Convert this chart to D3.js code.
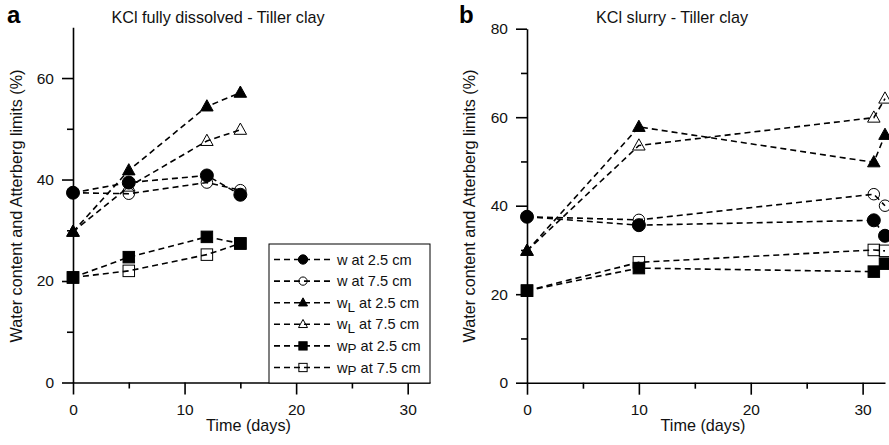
<!DOCTYPE html>
<html>
<head>
<meta charset="utf-8">
<script src="https://cdn.jsdelivr.net/npm/d3@7"></script>
<style>
  body { margin: 0; background: #fff; }
  svg { display: block; font-family: "Liberation Sans", Arial, sans-serif; }
</style>
</head>
<body>
<svg id="chart" width="889" height="445"></svg>
<script>
// Panel a: KCl fully dissolved
const daysA = [0, 5, 12, 15];
const wShallowA = [37.4, 39.4, 40.8, 37.0];
const wDeepA = [37.4, 37.2, 39.4, 37.9];
const wLShallowA = [29.7, 41.8, 54.4, 57.1];
const wLDeepA = [29.7, 38.6, 47.6, 49.8];
const wPShallowA = [20.7, 24.7, 28.7, 27.4];
const wPDeepA = [20.7, 22.0, 25.2, 27.4];

// Panel b: KCl slurry
const daysB = [0, 10, 31, 32];
const wShallowB = [37.5, 35.6, 36.7, 33.2];
const wDeepB = [37.5, 36.8, 42.6, 40.0];
const wLShallowB = [29.8, 57.8, 49.8, 56.0];
const wLDeepB = [29.8, 53.6, 59.9, 64.2];
const wPShallowB = [20.8, 25.9, 25.1, 26.9];
const wPDeepB = [20.8, 27.2, 30.0, 29.8];

const legendLabels = [
  ['w', '', ' at 2.5 cm'],
  ['w', '', ' at 7.5 cm'],
  ['w', 'L', ' at 2.5 cm'],
  ['w', 'L', ' at 7.5 cm'],
  ['w', 'P', ' at 2.5 cm'],
  ['w', 'P', ' at 7.5 cm']
];
const markerTypes = ['circleF', 'circleO', 'triF', 'triO', 'sqF', 'sqO'];

const svg = d3.select('#chart');

// draw one marker shape at (x,y)
function marker(g, type, x, y, s) {
  const filled = type.endsWith('F');
  const fill = filled ? '#000' : 'none';
  const sw = 1;
  if (type.startsWith('circle')) {
    g.append('circle').attr('cx', x).attr('cy', y)
      .attr('r', filled ? s * 0.52 : s * 0.46)
      .attr('fill', fill).attr('stroke', '#000').attr('stroke-width', sw);
  } else if (type.startsWith('tri')) {
    const h = s * 0.9, w = s * 1.0;
    g.append('path')
      .attr('d', `M${x},${y - h * 0.6}L${x + w / 2},${y + h * 0.4}L${x - w / 2},${y + h * 0.4}Z`)
      .attr('fill', fill).attr('stroke', '#000').attr('stroke-width', sw);
  } else {
    const a = s * 0.92;
    g.append('rect').attr('x', x - a / 2).attr('y', y - a / 2)
      .attr('width', a).attr('height', a)
      .attr('fill', fill).attr('stroke', '#000').attr('stroke-width', sw);
  }
}

function drawPanel(opt) {
  const x = d3.scaleLinear().domain([0, 32]).range(opt.xRange);
  const y = d3.scaleLinear().domain([0, opt.yMax]).range(opt.yRange);
  const g = svg.append('g');

  // axes: major + minor ticks
  const yMajor = d3.range(0, opt.yMax + 1, 20);
  const yMinor = d3.range(10, opt.yMax, 20);
  g.append('g').attr('transform', `translate(${opt.xRange[0]},0)`)
    .call(d3.axisLeft(y).tickValues(yMajor).tickSize(11).tickSizeOuter(0).tickPadding(8));
  g.append('g').attr('transform', `translate(${opt.xRange[0]},0)`)
    .call(d3.axisLeft(y).tickValues(yMinor).tickSize(6).tickFormat('').tickSizeOuter(0))
    .select('.domain').remove();
  g.append('g').attr('transform', `translate(0,${opt.yRange[0]})`)
    .call(d3.axisBottom(x).tickValues([0, 10, 20, 30]).tickSize(12).tickSizeOuter(0).tickPadding(9));
  g.append('g').attr('transform', `translate(0,${opt.yRange[0]})`)
    .call(d3.axisBottom(x).tickValues([5, 15, 25]).tickSize(6).tickFormat('').tickSizeOuter(0))
    .select('.domain').remove();
  g.selectAll('.domain, .tick line').attr('stroke', '#000').attr('stroke-width', 1.6);
  g.selectAll('.tick text').style('font-size', '15.5px').attr('fill', '#111')
    .style('font-family', '"Liberation Sans", Arial, sans-serif');

  // axis labels
  g.append('text')
    .attr('transform', `translate(${opt.yLabelX},206) rotate(-90)`)
    .attr('text-anchor', 'middle').style('font-size', '16.2px').attr('fill', '#111')
    .text('Water content and Atterberg limits (%)');
  g.append('text')
    .attr('x', (opt.xRange[0] + opt.xRange[1]) / 2 - 3).attr('y', 431)
    .attr('text-anchor', 'middle').style('font-size', '16.2px').attr('fill', '#111')
    .text('Time (days)');

  // panel letter + title
  g.append('text').attr('x', opt.letterX).attr('y', 23)
    .style('font-size', '24px').attr('font-weight', 'bold').text(opt.letter);
  g.append('text').attr('x', opt.titleX).attr('y', 23)
    .attr('text-anchor', 'middle').style('font-size', '16.2px').attr('fill', '#111')
    .text(opt.title);

  // series
  const line = d3.line().x(d => x(d[0])).y(d => y(d[1]));
  opt.series.forEach((vals, i) => {
    const pts = opt.days.map((d, j) => [d, vals[j]]);
    g.append('path').datum(pts).attr('d', line)
      .attr('fill', 'none').attr('stroke', '#000')
      .attr('stroke-width', 1.6).attr('stroke-dasharray', '6,4');
  });
  opt.series.forEach((vals, i) => {
    opt.days.forEach((d, j) => marker(g, markerTypes[i], x(d), y(vals[j]), 12.5));
  });
  return { x, y, g };
}

drawPanel({
  xRange: [73, 430], yRange: [382.5, 27.3], yMax: 70,
  days: daysA,
  series: [wShallowA, wDeepA, wLShallowA, wLDeepA, wPShallowA, wPDeepA],
  letter: 'a', letterX: 7, title: 'KCl fully dissolved - Tiller clay', titleX: 218,
  yLabelX: 22
});

drawPanel({
  xRange: [527, 885], yRange: [382.7, 28.7], yMax: 80,
  days: daysB,
  series: [wShallowB, wDeepB, wLShallowB, wLDeepB, wPShallowB, wPDeepB],
  letter: 'b', letterX: 459, title: 'KCl slurry - Tiller clay', titleX: 672,
  yLabelX: 475
});

// legend (panel a)
const leg = svg.append('g');
leg.append('rect').attr('x', 269).attr('y', 244).attr('width', 161).attr('height', 139)
  .attr('fill', '#fff').attr('stroke', '#000').attr('stroke-width', 1);
legendLabels.forEach((lab, i) => {
  const cy = 259.5 + i * 21.6;
  leg.append('line').attr('x1', 274).attr('x2', 332).attr('y1', cy).attr('y2', cy)
    .attr('stroke', '#000').attr('stroke-width', 1.6).attr('stroke-dasharray', '6,4');
  marker(leg, markerTypes[i], 303, cy, 9);
  const t = leg.append('text').attr('x', 337).attr('y', cy + 5)
    .style('font-size', '14.6px').attr('fill', '#111');
  t.append('tspan').text(lab[0]);
  if (lab[1]) t.append('tspan').attr('dy', lab[1] === 'L' ? 4 : 2)
    .style('font-size', '13.5px').text(lab[1]);
  t.append('tspan').attr('dy', lab[1] === 'L' ? -4 : (lab[1] ? -2 : 0)).text(lab[2]);
});
</script>
</body>
</html>
